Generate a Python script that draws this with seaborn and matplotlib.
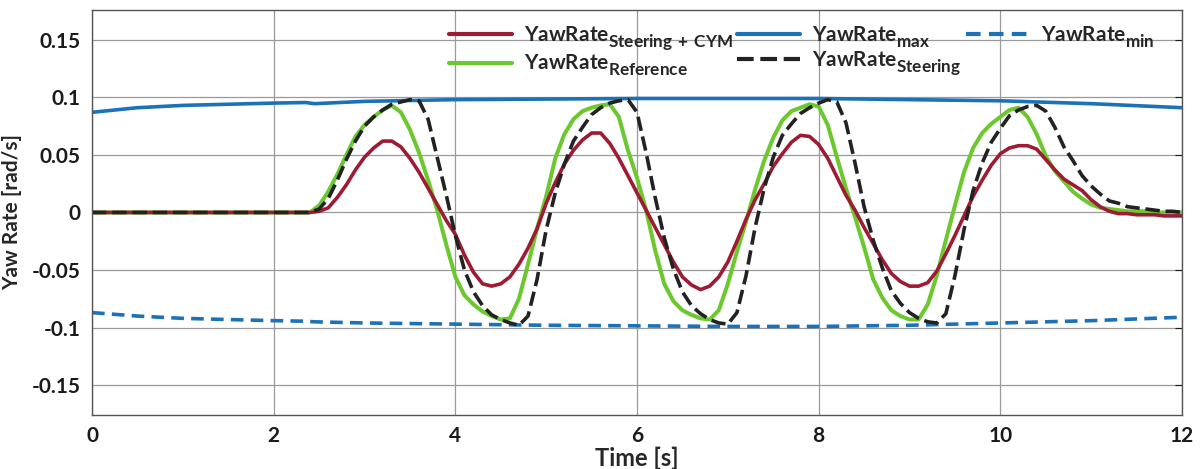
import numpy as np
import pandas as pd
import matplotlib
matplotlib.use("Agg")
import matplotlib.pyplot as plt
import seaborn as sns

# ---------------- data ----------------
time_s = np.round(np.arange(0, 121) * 0.1, 1)  # 0.0 .. 12.0 s

yaw_reference = [0.0] * 25 + [
    0.006, 0.018, 0.033, 0.050, 0.066, 0.076, 0.083, 0.089, 0.093, 0.087,  # 2.5-3.4
    0.072, 0.052, 0.028, 0.002, -0.028, -0.056, -0.072, -0.080, -0.086, -0.090,  # 3.5-4.4
    -0.093, -0.092, -0.075, -0.045, -0.014, 0.014, 0.047, 0.068, 0.081, 0.088,  # 4.5-5.4
    0.091, 0.093, 0.094, 0.083, 0.054, 0.030, 0.002, -0.033, -0.062, -0.077,  # 5.5-6.4
    -0.085, -0.089, -0.092, -0.093, -0.085, -0.062, -0.034, -0.008, 0.020, 0.045,  # 6.5-7.4
    0.065, 0.080, 0.088, 0.091, 0.094, 0.092, 0.076, 0.048, 0.021, -0.004,  # 7.5-8.4
    -0.030, -0.058, -0.074, -0.085, -0.090, -0.093, -0.093, -0.080, -0.055, -0.024,  # 8.5-9.4
    0.006, 0.035, 0.056, 0.069, 0.077, 0.083, 0.089, 0.091, 0.083, 0.068,  # 9.5-10.4
    0.049, 0.036, 0.027, 0.018, 0.012, 0.007, 0.004, 0.003, 0.002, 0.001,  # 10.5-11.4
    0.001, 0.001, 0.000, 0.000, 0.000, 0.000,  # 11.5-12.0
]

yaw_steering_cym = [0.0] * 25 + [
    0.001, 0.004, 0.013, 0.024, 0.037, 0.048, 0.056, 0.062, 0.062, 0.057,
    0.047, 0.035, 0.021, 0.007, -0.007, -0.019, -0.037, -0.052, -0.062, -0.064,
    -0.062, -0.056, -0.045, -0.031, -0.014, 0.008, 0.026, 0.042, 0.054, 0.063,
    0.069, 0.069, 0.060, 0.047, 0.032, 0.017, 0.002, -0.013, -0.028, -0.043,
    -0.056, -0.063, -0.067, -0.064, -0.056, -0.043, -0.025, -0.006, 0.011, 0.025,
    0.040, 0.051, 0.061, 0.067, 0.066, 0.059, 0.047, 0.031, 0.015, 0.002,
    -0.013, -0.027, -0.041, -0.053, -0.060, -0.064, -0.064, -0.061, -0.051, -0.036,
    -0.020, -0.003, 0.014, 0.028, 0.041, 0.051, 0.056, 0.058, 0.058, 0.055,
    0.046, 0.037, 0.029, 0.024, 0.019, 0.011, 0.005, 0.001, -0.001, -0.001,
    -0.002, -0.002, -0.002, -0.003, -0.003, -0.003,
]

yaw_steering = [0.0] * 25 + [
    0.003, 0.012, 0.028, 0.046, 0.062, 0.075, 0.083, 0.089, 0.094, 0.096,
    0.098, 0.097, 0.081, 0.048, 0.015, -0.020, -0.050, -0.069, -0.081, -0.089,
    -0.093, -0.096, -0.098, -0.090, -0.058, -0.015, 0.017, 0.042, 0.062, 0.074,
    0.085, 0.091, 0.095, 0.097, 0.098, 0.087, 0.052, 0.013, -0.022, -0.049,
    -0.069, -0.081, -0.088, -0.093, -0.096, -0.097, -0.087, -0.055, -0.013, 0.021,
    0.048, 0.067, 0.077, 0.086, 0.091, 0.095, 0.098, 0.096, 0.078, 0.043,
    0.005, -0.024, -0.048, -0.068, -0.079, -0.087, -0.092, -0.095, -0.096, -0.088,
    -0.055, -0.015, 0.019, 0.043, 0.061, 0.073, 0.084, 0.089, 0.092, 0.093,
    0.088, 0.074, 0.057, 0.045, 0.032, 0.023, 0.016, 0.010, 0.008, 0.005,
    0.004, 0.003, 0.002, 0.001, 0.001, 0.000,
]

time_limits = [0, 0.5, 1, 1.5, 2, 2.35, 2.45, 3, 4, 5, 6, 7, 8, 9, 9.5, 10, 11, 12]
yaw_max = [0.087, 0.091, 0.093, 0.094, 0.095, 0.0955, 0.0945, 0.0965, 0.098, 0.0985,
           0.099, 0.099, 0.099, 0.098, 0.0975, 0.097, 0.0945, 0.091]
yaw_min = [-0.087, -0.090, -0.092, -0.093, -0.094, -0.0945, -0.095, -0.096, -0.097, -0.098,
           -0.0985, -0.099, -0.099, -0.098, -0.097, -0.096, -0.094, -0.091]

x_ticks = [0, 2, 4, 6, 8, 10, 12]
y_ticks = [-0.15, -0.1, -0.05, 0, 0.05, 0.1, 0.15]
y_tick_labels = ["-0.15", "-0.1", "-0.05", "0", "0.05", "0.1", "0.15"]

# ---------------- style ----------------
sns.set_theme(style="whitegrid")
plt.rcParams["font.family"] = ["Lato", "DejaVu Sans"]
plt.rcParams["mathtext.fontset"] = "custom"
plt.rcParams["mathtext.rm"] = "Lato"
plt.rcParams["mathtext.bf"] = "Lato:bold"

# larger, lower subscripts like the reference legend
try:
    import matplotlib._mathtext as _mt
    _mt.SHRINK_FACTOR = 0.82
    _mt.FontConstantsBase.sub1 = 0.55
    _mt.FontConstantsBase.sub2 = 0.6
except Exception:
    pass

C_RED = "#9E1B34"
C_BLUE = "#1C72B8"
C_GREEN = "#6CC82E"
C_BLACK = "#222222"

df = pd.DataFrame({"t": time_s, "ref": yaw_reference, "cym": yaw_steering_cym, "steer": yaw_steering})
dl = pd.DataFrame({"t": time_limits, "max": yaw_max, "min": yaw_min})

fig = plt.figure(figsize=(12, 4.69), dpi=100)
ax = fig.add_axes([0.0767, 0.115, 0.9083, 0.864])

L_CYM = r"$\mathbf{YawRate}_{\mathbf{Steering\,+\,CYM}}$"
L_REF = r"$\mathbf{YawRate}_{\mathbf{Reference}}$"
L_MAX = r"$\mathbf{YawRate}_{\mathbf{max}}$"
L_STE = r"$\mathbf{YawRate}_{\mathbf{Steering}}$"
L_MIN = r"$\mathbf{YawRate}_{\mathbf{min}}$"

lw = 2.6
kw = dict(solid_joinstyle="round", solid_capstyle="round", dash_joinstyle="round")
sns.lineplot(data=dl, x="t", y="max", ax=ax, color=C_BLUE, lw=lw, label=L_MAX, **kw)
sns.lineplot(data=dl, x="t", y="min", ax=ax, color=C_BLUE, lw=lw, linestyle=(0, (3.5, 2.0)),
             label=L_MIN, **kw)
sns.lineplot(data=df, x="t", y="ref", ax=ax, color=C_GREEN, lw=lw + 0.3, label=L_REF, **kw)
sns.lineplot(data=df, x="t", y="cym", ax=ax, color=C_RED, lw=lw, label=L_CYM, **kw)
sns.lineplot(data=df, x="t", y="steer", ax=ax, color=C_BLACK, lw=lw, linestyle=(0, (4.0, 1.6)),
             label=L_STE, **kw)

ax.set_xlim(0, 12)
ax.set_ylim(-0.176, 0.176)
ax.set_xticks(x_ticks)
ax.set_xticklabels([str(v) for v in x_ticks])
ax.set_yticks(y_ticks)
ax.set_yticklabels(y_tick_labels)

ax.set_facecolor("white")
ax.grid(True, color="#9a9a9a", lw=0.9)
for s in ax.spines.values():
    s.set_color("#555555")
    s.set_linewidth(1.0)
ax.tick_params(axis="both", labelsize=15, colors="#1a1a1a", length=5, width=0.8,
               direction="in", right=True, top=False, pad=8)
for lab in ax.get_xticklabels() + ax.get_yticklabels():
    lab.set_fontweight("bold")

ax.set_xlabel("Time [s]", fontsize=17, fontweight="bold", labelpad=0)
ax.set_ylabel("Yaw Rate [rad/s]", fontsize=15, fontweight="bold", labelpad=7)

handles, labels = ax.get_legend_handles_labels()
order = {lab: h for h, lab in zip(handles, labels)}
keys = [L_CYM, L_REF, L_MAX, L_STE, L_MIN]
leg = ax.legend([order[k] for k in keys], keys, ncol=3, frameon=False, loc="upper left",
                bbox_to_anchor=(0.32, 0.985), borderaxespad=0.0, fontsize=15,
                handlelength=3.0, handletextpad=0.6, columnspacing=0.2, labelspacing=0.0)
for line in leg.get_lines():
    line.set_linewidth(3.0)

fig.savefig("out.png", dpi=100, facecolor="white")
